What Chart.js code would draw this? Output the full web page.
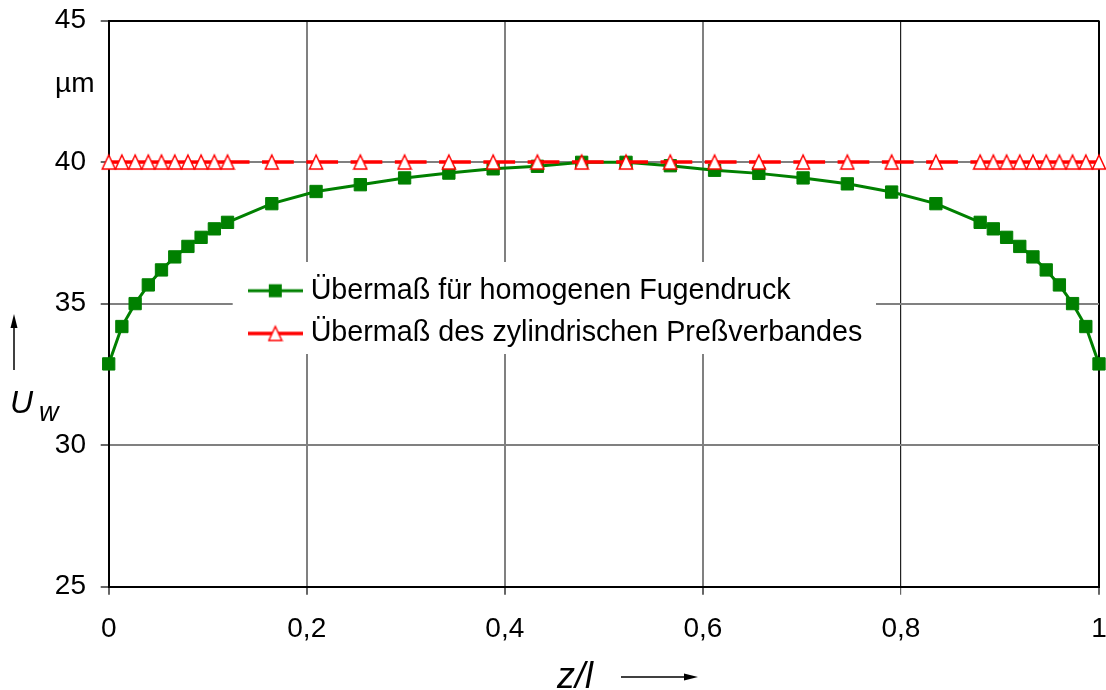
<!DOCTYPE html>
<html>
<head>
<meta charset="utf-8">
<script src="https://cdn.jsdelivr.net/npm/chart.js@4.4.0/dist/chart.umd.min.js"></script>
<style>
html, body { margin: 0; padding: 0; background: #fff; }
#wrap { width: 1106px; height: 690px; }
</style>
</head>
<body>
<div id="wrap"><canvas id="c" width="1106" height="690"></canvas></div>
<script>
// ---- data ----
const zPositions = [0, 0.0133, 0.0267, 0.04, 0.0533, 0.0667, 0.08, 0.0933, 0.1067, 0.12,
  0.1647, 0.2094, 0.2541, 0.2988, 0.3435, 0.3882, 0.4329, 0.4776,
  0.5224, 0.5671, 0.6118, 0.6565, 0.7012, 0.7459, 0.7906, 0.8353,
  0.88, 0.8933, 0.9067, 0.92, 0.9333, 0.9467, 0.96, 0.9733, 0.9867, 1];
const uHomogen = [32.87, 34.19, 35.0, 35.66, 36.19, 36.65, 37.02, 37.34, 37.64, 37.87,
  38.53, 38.96, 39.2, 39.44, 39.61, 39.76, 39.85, 39.99,
  39.99, 39.87, 39.71, 39.6, 39.44, 39.23, 38.94, 38.53,
  37.87, 37.64, 37.34, 37.02, 36.65, 36.19, 35.66, 35.0, 34.19, 32.87];
const uZylinder = [40, 40, 40, 40, 40, 40, 40, 40, 40, 40,
  40, 40, 40, 40, 40, 40, 40, 40,
  40, 40, 40, 40, 40, 40, 40, 40,
  40, 40, 40, 40, 40, 40, 40, 40, 40, 40];
const seriesNames = ['Übermaß für homogenen Fugendruck', 'Übermaß des zylindrischen Preßverbandes'];
const xTickValues = [0, 0.2, 0.4, 0.6, 0.8, 1];
const xTickLabels = ['0', '0,2', '0,4', '0,6', '0,8', '1'];
const yTickValues = [25, 30, 35, 40, 45];
const yTickLabels = ['25', '30', '35', '40', '45'];
const yUnit = 'µm';
const yTitle = 'U';
const yTitleSub = 'w';
const xTitle = 'z/l';

// ---- styling ----
const FONT = "'Liberation Sans', Arial, Helvetica, sans-serif";
const GREEN = '#008000';
const RED = '#ff0000';
Chart.defaults.font.family = FONT;
Chart.defaults.color = '#000';

function triangleImage() {
  const c = document.createElement('canvas');
  c.width = 16; c.height = 18;
  const g = c.getContext('2d');
  g.beginPath();
  g.moveTo(8, 2); g.lineTo(14.5, 16); g.lineTo(1.5, 16); g.closePath();
  g.fillStyle = '#fff'; g.fill();
  g.lineWidth = 1.5; g.strokeStyle = RED; g.stroke();
  return c;
}
const triImg = triangleImage();

function legendSymbol(kind) {
  const c = document.createElement('canvas');
  c.width = 55; c.height = 20;
  const g = c.getContext('2d');
  g.beginPath(); g.moveTo(0, 10); g.lineTo(55, 10);
  g.lineWidth = kind === 'rect' ? 3 : 3.5;
  g.strokeStyle = kind === 'rect' ? GREEN : RED;
  g.stroke();
  if (kind === 'rect') {
    g.fillStyle = GREEN; g.fillRect(27.5 - 6.5, 3.5, 13, 13);
  } else {
    g.drawImage(triImg, 27.5 - 8, 10 - 9);
  }
  return c;
}
const legendSymbols = [legendSymbol('rect'), legendSymbol('tri')];

const legendPlacer = {
  id: 'legendPlacer',
  afterLayout(chart) {
    const lg = chart.legend;
    if (!lg) return;
    lg.left = 240.3; lg.top = 262.4; lg.right = 900; lg.bottom = 420;
    lg.width = lg.right - lg.left; lg.height = lg.bottom - lg.top;
    if (!lg._bgWrapped) {
      const base = lg.draw;
      lg.draw = function (area) {
        const c = this.ctx;
        c.save(); c.fillStyle = '#fff'; c.fillRect(232.7, 262, 643.3, 92); c.restore();
        base.call(this, area);
      };
      lg._bgWrapped = true;
    }
  }
};

const decor = {
  id: 'decor',
  afterDraw(chart) {
    const c = chart.ctx;
    c.save();
    c.fillStyle = '#000'; c.strokeStyle = '#000';
    c.textAlign = 'left'; c.textBaseline = 'alphabetic';
    c.font = '28px ' + FONT;
    c.fillText(yUnit, 55, 92);
    c.font = 'italic 32px ' + FONT;
    c.fillText(yTitle, 10, 413);
    c.font = 'italic 27px ' + FONT;
    c.fillText(yTitleSub, 39, 421);
    c.lineWidth = 1.5;
    c.beginPath(); c.moveTo(14, 370); c.lineTo(14, 326); c.stroke();
    c.beginPath(); c.moveTo(14, 314); c.lineTo(10.5, 328); c.lineTo(17.5, 328); c.closePath(); c.fill();
    c.font = 'italic 36px ' + FONT;
    c.fillText(xTitle, 557, 688);
    c.beginPath(); c.moveTo(621, 677); c.lineTo(686, 677); c.stroke();
    c.beginPath(); c.moveTo(698, 677); c.lineTo(684, 673.5); c.lineTo(684, 680.5); c.closePath(); c.fill();
    c.restore();
  }
};

const greenData = zPositions.map((z, i) => ({ x: z, y: uHomogen[i] }));
const redData = zPositions.map((z, i) => ({ x: z, y: uZylinder[i] }));

new Chart(document.getElementById('c'), {
  type: 'line',
  data: {
    datasets: [
      {
        label: seriesNames[0], data: greenData, order: 2,
        borderColor: GREEN, backgroundColor: GREEN, borderWidth: 3,
        pointStyle: 'rect', pointRadius: 8.7, pointBorderWidth: 1,
        pointBackgroundColor: GREEN, pointBorderColor: GREEN,
        tension: 0, fill: false, clip: false
      },
      {
        label: seriesNames[1], data: redData, order: 1,
        borderColor: RED, backgroundColor: '#fff', borderWidth: 3.5,
        borderDash: [22, 12.5, 1000, 1],
        segment: {
          borderDash: [22, 12.5, 1000, 1],
          borderDashOffset: (ctx) => (ctx.p0DataIndex % 2 ? 0.01 : 0)
        },
        pointStyle: triImg, pointRadius: 8,
        tension: 0, fill: false, clip: false
      }
    ]
  },
  options: {
    responsive: false,
    animation: false,
    events: [],
    devicePixelRatio: 1,
    layout: { autoPadding: false, padding: { top: 20.5, right: 7, bottom: 0, left: 0 } },
    plugins: {
      tooltip: { enabled: false },
      legend: {
        display: true,
        position: 'chartArea',
        align: 'start',
        labels: {
          usePointStyle: true,
          pointStyleWidth: 42,
          padding: 14,
          color: '#000',
          font: { family: FONT, size: 28.7 },
          generateLabels: () => seriesNames.map((name, i) => ({
            text: name, pointStyle: legendSymbols[i], fillStyle: '#fff',
            strokeStyle: '#fff', lineWidth: 0, hidden: false, datasetIndex: i, fontColor: '#000'
          }))
        }
      }
    },
    scales: {
      x: {
        type: 'linear', min: 0, max: 1,
        afterBuildTicks: (s) => { s.ticks = xTickValues.map(v => ({ value: v })); },
        afterFit: (s) => { s.height = 690 - 586.7; s.paddingLeft = 0; s.paddingRight = 0; },
        ticks: {
          callback: (v, i) => xTickLabels[i],
          color: '#000', font: { family: FONT, size: 28 }, padding: 17.5,
          maxRotation: 0, autoSkip: false
        },
        grid: {
          color: (ctx) => {
            const v = ctx.tick ? ctx.tick.value : null;
            if (v === 1) return '#000';
            if (v === 0.8) return '#222';
            return '#808080';
          },
          lineWidth: (ctx) => (ctx.tick && ctx.tick.value === 0.8 ? 1.2 : 2),
          tickColor: '#666', tickLength: 8, drawTicks: true
        },
        border: { color: '#000', width: 2 }
      },
      y: {
        type: 'linear', min: 25, max: 45,
        afterBuildTicks: (s) => { s.ticks = yTickValues.map(v => ({ value: v })); },
        afterFit: (s) => { s.width = 108.7; s.paddingTop = 0; s.paddingBottom = 0; },
        ticks: {
          callback: (v, i) => yTickLabels[i],
          color: '#000', font: { family: FONT, size: 28 }, padding: 14.7
        },
        grid: {
          color: (ctx) => (ctx.tick && ctx.tick.value === 45 ? '#000' : '#808080'),
          lineWidth: 2,
          tickColor: '#666', tickLength: 8, drawTicks: true
        },
        border: { color: '#000', width: 2 }
      }
    }
  },
  plugins: [legendPlacer, decor]
});
</script>
</body>
</html>
